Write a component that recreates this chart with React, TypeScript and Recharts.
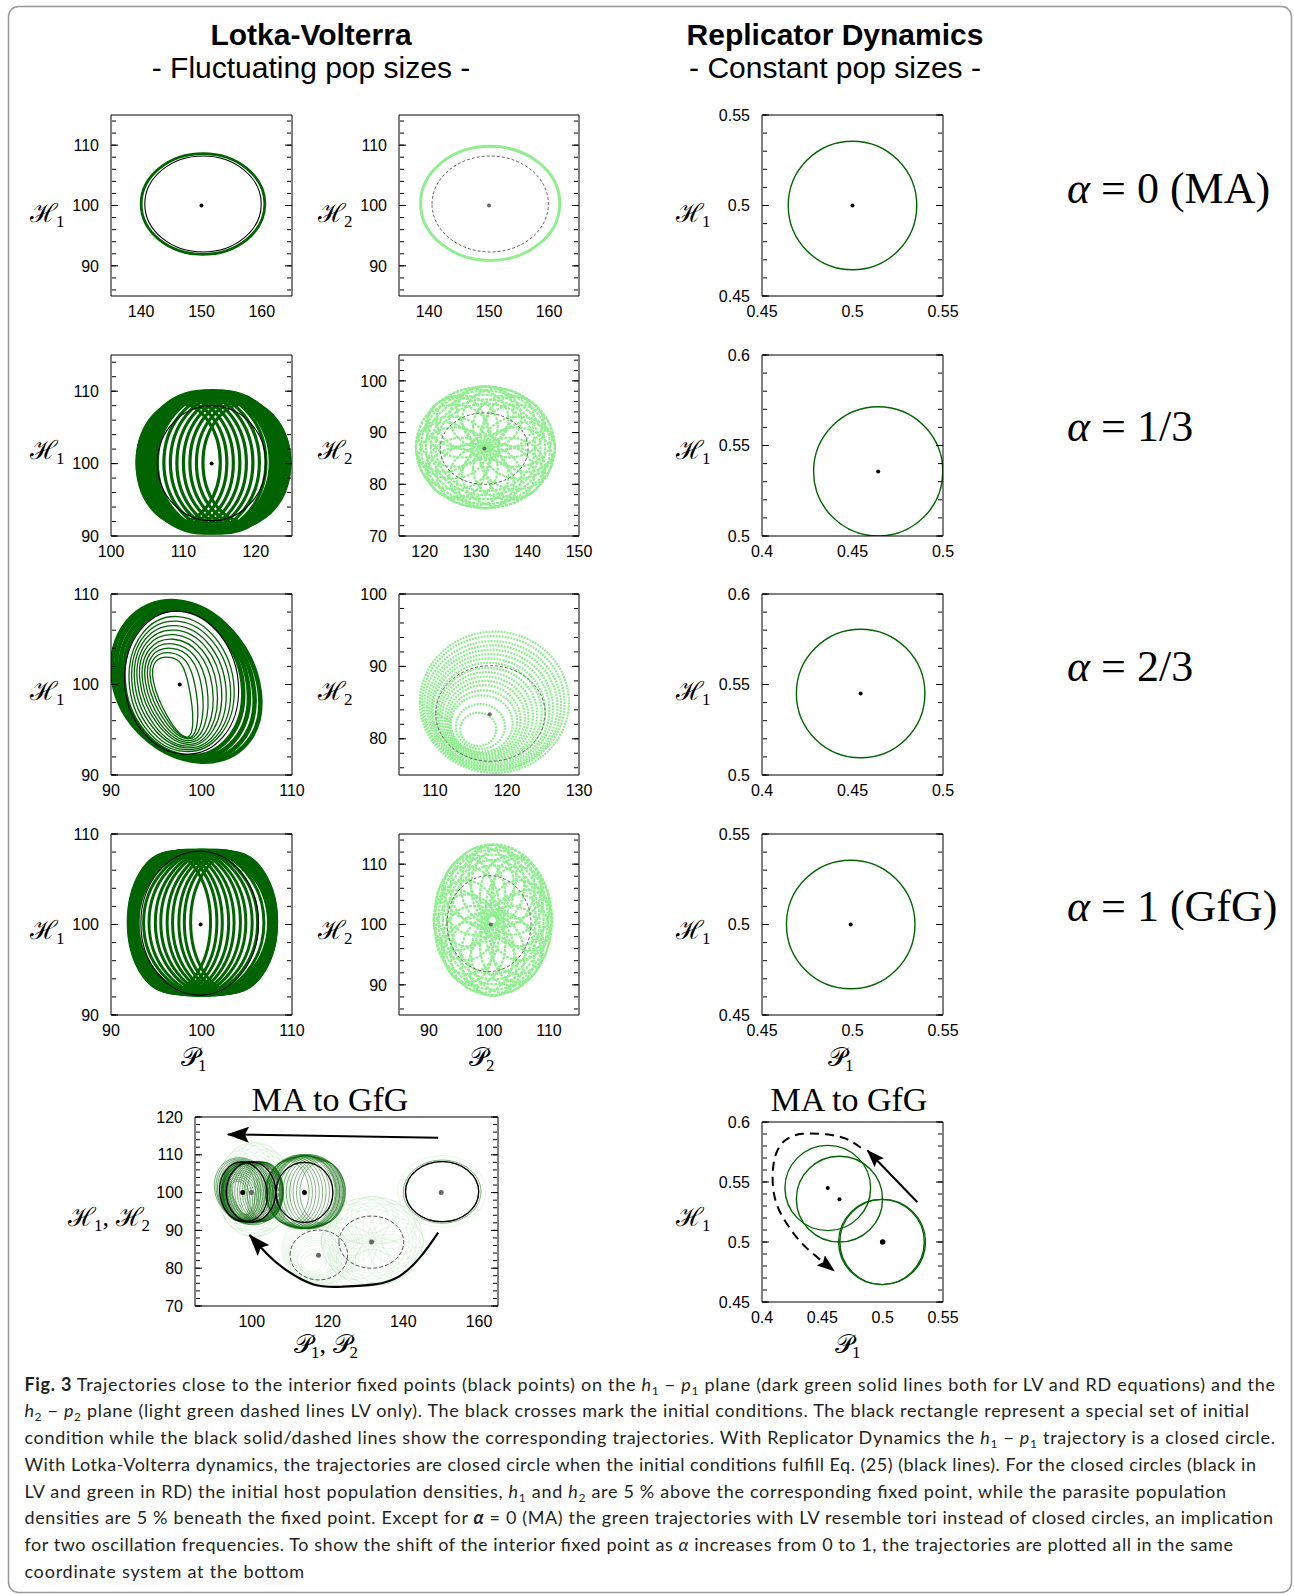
import { ComposedChart, Line, Scatter, XAxis, YAxis } from 'recharts';

const DARK_GREEN = '#006400';
const LIGHT_GREEN = '#90ee90';
const GREY = '#666666';
const SANS = '"Liberation Sans", Arial, Helvetica, sans-serif';
const SERIF = '"Liberation Serif", "DejaVu Serif", serif';
const CAPTION_FONT = 'Lato, "Open Sans", sans-serif';

// A loop is a box [xMin, xMax, yMin, yMax] (axis-aligned ellipse),
// or the four extreme points [xL, yL, xT, yT, xR, yR, xB, yB] of a tilted one.

// alpha = 0 (MA)
const maLv1Green = [[140.0, 160.5, 91.9, 108.6]];
const maLv1Black = [[140.6, 159.9, 92.3, 108.2]];
const maLv2Green = [[138.6, 161.8, 90.9, 109.8]];
const maLv2Dashed = [[140.5, 159.9, 92.3, 108.2]];
const maRd = [[0.4645, 0.5355, 0.4645, 0.5355]];

// alpha = 1/3
const a13Lv1Green = [
  [103.6, 124.7, 90.4, 110.1],
  [103.6, 115.1, 91.9, 108.3],
  [103.8, 116.0, 91.6, 108.6],
  [104.0, 116.9, 91.3, 108.9],
  [104.2, 117.8, 91.1, 109.1],
  [104.5, 118.7, 90.9, 109.3],
  [104.8, 119.6, 90.8, 109.5],
  [105.1, 120.5, 90.7, 109.6],
  [105.4, 121.4, 90.6, 109.7],
  [105.7, 122.3, 90.5, 109.8],
  [106.0, 123.2, 90.5, 109.9],
  [106.3, 124.1, 90.4, 110.0],
  [112.7, 124.7, 91.9, 108.3],
  [111.8, 124.5, 91.6, 108.6],
  [110.9, 124.3, 91.3, 108.9],
  [110.0, 124.1, 91.1, 109.1],
  [109.1, 123.8, 90.9, 109.3],
  [108.2, 123.5, 90.8, 109.5],
  [107.3, 123.2, 90.7, 109.6],
  [106.4, 122.9, 90.6, 109.7],
  [105.5, 122.6, 90.5, 109.8],
  [104.6, 122.3, 90.5, 109.9],
  [103.8, 122.0, 90.4, 110.0],
];
const a13Lv1Black = [[106.4, 121.4, 92.1, 108.0]];
const a13Lv2Green = [
  [118.3, 145.3, 75.4, 98.9],
  [119.3, 144.4, 76.2, 98.1],
  [120.2, 143.4, 77.1, 97.3],
  [121.2, 142.5, 77.9, 96.4],
  [122.1, 141.5, 78.7, 95.6],
  [131.3, 145.3, 81.1, 93.1],
  [130.8, 144.8, 83.4, 95.4],
  [129.4, 143.4, 85.2, 97.2],
  [127.3, 141.3, 86.5, 98.5],
  [124.8, 138.8, 86.9, 98.9],
  [122.3, 136.3, 86.5, 98.5],
  [120.2, 134.2, 85.2, 97.2],
  [118.8, 132.8, 83.4, 95.4],
  [118.3, 132.3, 81.1, 93.1],
  [118.8, 132.8, 79.0, 91.0],
  [120.2, 134.2, 77.0, 89.0],
  [122.3, 136.3, 75.8, 87.8],
  [124.8, 138.8, 75.4, 87.4],
  [127.3, 141.3, 75.8, 87.8],
  [129.4, 143.4, 77.0, 89.0],
  [130.8, 144.8, 79.0, 91.0],
  [134.3, 145.3, 82.4, 92.0],
  [132.0, 143.0, 87.3, 96.9],
  [126.3, 137.3, 89.4, 99.0],
  [120.6, 131.6, 87.3, 96.9],
  [118.3, 129.3, 82.4, 92.0],
  [120.6, 131.6, 77.4, 87.0],
  [126.3, 137.3, 75.4, 85.0],
  [132.0, 143.0, 77.4, 87.0],
];
const a13Lv2Dashed = [[123.0, 140.1, 80.0, 93.8]];
const a13Rd = [[0.4285, 0.4999, 0.5, 0.5714]];

// alpha = 2/3
const a23Lv1Band = [
  [90.2, 100.6, 97.2, 109.2, 106.4, 99.4, 99.7, 91.5],
  [90.6, 100.6, 97.3, 108.9, 105.8, 99.4, 99.3, 91.7],
  [91.0, 100.5, 97.4, 108.6, 105.2, 99.5, 98.9, 91.9],
  [91.4, 100.5, 97.5, 108.3, 104.6, 99.5, 98.4, 92.1],
];
const a23Lv1Green = [
  [92.0, 100.4, 97.4, 107.5, 103.6, 99.6, 98.1, 92.6],
  [92.3, 100.4, 97.3, 107.0, 103.2, 99.6, 98.2, 92.8],
  [92.6, 100.4, 97.2, 106.5, 102.7, 99.6, 98.3, 93.0],
  [92.9, 100.4, 97.1, 106.0, 102.2, 99.7, 98.3, 93.2],
  [93.2, 100.4, 97.0, 105.5, 101.7, 99.7, 98.4, 93.4],
  [93.5, 100.3, 96.9, 105.0, 101.2, 99.7, 98.4, 93.6],
  [93.8, 100.3, 96.8, 104.5, 100.6, 99.7, 98.4, 93.8],
  [94.1, 100.3, 96.7, 104.0, 100.0, 99.8, 98.4, 94.0],
  [94.4, 100.3, 96.6, 103.5, 99.3, 99.8, 98.4, 94.1],
  [94.7, 100.3, 96.5, 103.0, 98.6, 99.8, 98.3, 94.2],
];
const a23Lv1Black = [[91.5, 100.4, 97.6, 108.1, 104.1, 99.6, 98.0, 92.3]];
const a23Lv2Green = [
  [107.9, 128.6, 75.3, 94.8],
  [108.2, 128.0, 75.6, 94.2],
  [108.5, 127.5, 75.7, 93.5],
  [108.9, 127.0, 75.9, 92.9],
  [109.2, 126.4, 76.1, 92.3],
  [109.5, 125.9, 76.3, 91.7],
  [109.7, 125.3, 76.5, 91.1],
  [110.1, 124.8, 76.8, 90.5],
  [110.4, 124.2, 77.0, 89.8],
  [110.7, 123.6, 77.2, 89.2],
  [111.0, 123.0, 77.4, 88.6],
  [111.4, 122.5, 77.6, 88.0],
  [111.7, 121.9, 77.8, 87.4],
  [112.0, 121.4, 78.0, 86.7],
  [112.2, 120.8, 78.2, 86.0],
  [112.9, 119.7, 78.6, 84.8],
  [113.5, 118.5, 79.0, 83.6],
];
const a23Lv2Dashed = [[110.1, 125.3, 76.9, 90.1]];
const a23Rd = [[0.419, 0.49, 0.5095, 0.5805]];

// alpha = 1 (GfG)
const gfgLv1Green = [
  [92.0, 108.2, 92.2, 108.2],
  [91.9, 101.0, 92.6, 107.9],
  [91.95, 101.7, 92.5, 108.0],
  [92.0, 102.3, 92.4, 108.05],
  [92.1, 103.0, 92.35, 108.1],
  [92.2, 103.6, 92.3, 108.15],
  [92.3, 104.3, 92.3, 108.2],
  [92.4, 104.9, 92.25, 108.2],
  [92.5, 105.6, 92.2, 108.2],
  [92.6, 106.2, 92.2, 108.2],
  [92.8, 106.9, 92.2, 108.2],
  [93.0, 107.5, 92.2, 108.2],
  [98.8, 108.3, 92.6, 107.9],
  [98.1, 108.3, 92.5, 108.0],
  [97.5, 108.25, 92.4, 108.05],
  [96.8, 108.2, 92.35, 108.1],
  [96.2, 108.15, 92.3, 108.15],
  [95.5, 108.1, 92.3, 108.2],
  [94.9, 108.0, 92.25, 108.2],
  [94.2, 107.9, 92.2, 108.2],
  [93.6, 107.8, 92.2, 108.2],
  [92.9, 107.6, 92.2, 108.2],
  [92.3, 107.4, 92.2, 108.2],
];
const gfgLv1Black = [[93.3, 106.3, 92.2, 108.1]];
const gfgLv2Green = [
  [90.9, 110.5, 88.3, 113.3],
  [91.6, 109.8, 89.2, 112.4],
  [92.3, 109.1, 90.1, 111.6],
  [93.0, 108.4, 90.9, 110.7],
  [93.6, 107.8, 91.8, 109.8],
  [99.8, 110.4, 94.1, 107.3],
  [99.5, 110.1, 96.4, 109.6],
  [98.5, 109.1, 98.3, 111.5],
  [97.0, 107.6, 99.6, 112.8],
  [95.3, 105.9, 100.0, 113.2],
  [93.6, 104.2, 99.6, 112.8],
  [92.1, 102.7, 98.3, 111.5],
  [91.1, 101.7, 96.4, 109.6],
  [90.8, 101.4, 94.1, 107.3],
  [91.1, 101.7, 91.8, 105.0],
  [92.1, 102.7, 89.9, 103.1],
  [93.6, 104.2, 88.7, 101.9],
  [95.3, 105.9, 88.2, 101.4],
  [97.0, 107.6, 88.7, 101.9],
  [98.5, 109.1, 89.9, 103.1],
  [99.5, 110.1, 91.8, 105.0],
  [102.4, 110.4, 95.7, 105.7],
  [100.7, 108.7, 101.0, 111.0],
  [96.6, 104.6, 103.2, 113.2],
  [92.5, 100.5, 101.0, 111.0],
  [90.8, 98.8, 95.7, 105.7],
  [92.5, 100.5, 90.4, 100.4],
  [96.6, 104.6, 88.2, 98.2],
  [100.7, 108.7, 90.4, 100.4],
];
const gfgLv2Dashed = [[93.0, 107.0, 92.2, 108.1]];
const gfgRd = [[0.4635, 0.5345, 0.4645, 0.5355]];

// interior fixed points, rows alpha = 0, 1/3, 2/3, 1
const lv1Fixed = [[150, 100], [113.9, 100], [97.6, 100], [99.9, 100]];
const lv2Fixed = [[150, 100], [131.6, 86.9], [117.6, 83.4], [100.3, 100]];
const rdFixed = [[0.5, 0.5], [0.4642, 0.5357], [0.4545, 0.545], [0.499, 0.5]];

// arrows of the two "MA to GfG" panels
const mixTopArrow = [[149.2, 114.5], [93.7, 115.4]];
const mixBottomArrow = [
  [149.2, 89.4], [144.7, 83.2], [139.0, 77.9], [132.4, 75.7], [123.9, 75.1],
  [116.3, 75.7], [108.8, 79.7], [104.1, 83.7], [99.4, 88.8],
];
const rdSolidArrow = [[0.5288, 0.5331], [0.4874, 0.5763]];
const rdDashedArrow = [
  [0.4819, 0.5785], [0.4695, 0.5861], [0.4529, 0.5897], [0.4336, 0.5902],
  [0.4199, 0.5852], [0.4116, 0.5735], [0.4088, 0.554], [0.4121, 0.5317],
  [0.4226, 0.5122], [0.4364, 0.4955], [0.4598, 0.476],
];

// axes
const lv1XDomains = [[135, 165], [100, 125], [90, 110], [90, 110]];
const lv1YDomains = [[85, 115], [90, 115], [90, 110], [90, 110]];
const lv1XTicks = [[140, 150, 160], [100, 110, 120], [90, 100, 110], [90, 100, 110]];
const lv1YTicks = [[90, 100, 110], [90, 100, 110], [90, 100, 110], [90, 100, 110]];
const lv2XDomains = [[135, 165], [115, 150], [105, 130], [85, 115]];
const lv2YDomains = [[85, 115], [70, 105], [75, 100], [85, 115]];
const lv2XTicks = [[140, 150, 160], [120, 130, 140, 150], [110, 120, 130], [90, 100, 110]];
const lv2YTicks = [[90, 100, 110], [70, 80, 90, 100], [80, 90, 100], [90, 100, 110]];
const rdXDomains = [[0.45, 0.55], [0.4, 0.5], [0.4, 0.5], [0.45, 0.55]];
const rdYDomains = [[0.45, 0.55], [0.5, 0.6], [0.5, 0.6], [0.45, 0.55]];
const rdXTicks = [[0.45, 0.5, 0.55], [0.4, 0.45, 0.5], [0.4, 0.45, 0.5], [0.45, 0.5, 0.55]];
const rdYTicks = [[0.45, 0.5, 0.55], [0.5, 0.55, 0.6], [0.5, 0.55, 0.6], [0.45, 0.5, 0.55]];
const mixXTicks = [100, 120, 140, 160];
const mixYTicks = [70, 80, 90, 100, 110, 120];
const mixRdXTicks = [0.4, 0.45, 0.5, 0.55];
const mixRdYTicks = [0.45, 0.5, 0.55, 0.6];

const alphaLabels = ['0 (MA)', '1/3', '2/3', '1 (GfG)'];

const ROW_TOPS = [115, 355, 594, 834];
const COL_LEFTS = [111, 399, 762];
const PAD = { l: 70, r: 28, t: 14, b: 36 };

type Loop = number[];
type Layer = { loops: Loop[]; stroke: string; width: number; dash?: string; opacity?: number };
type Dots = { points: number[][]; fill: string; r: number };
type Arrow = { points: number[][]; width: number; dash?: string; marker: string };
type PanelProps = {
  box: number[];
  xDomain: number[];
  yDomain: number[];
  xTicks: number[];
  yTicks: number[];
  xMinor: number;
  yMinor: number;
  layers: Layer[];
  dots: Dots[];
  arrows?: Arrow[];
};

// closed smooth curve through the points (cubic pieces, circle-like for evenly spaced points)
function closedLoop(context: any) {
  let pts: number[][] = [];
  return {
    areaStart() {},
    areaEnd() {},
    lineStart() {
      pts = [];
    },
    point(x: number, y: number) {
      pts.push([+x, +y]);
    },
    lineEnd() {
      const n = pts.length;
      if (!n) return;
      const k = ((4 / 3) * Math.tan(Math.PI / (2 * n))) / (2 * Math.sin((2 * Math.PI) / n));
      context.moveTo(pts[0][0], pts[0][1]);
      for (let i = 0; i < n; i += 1) {
        const p0 = pts[(i + n - 1) % n];
        const p1 = pts[i];
        const p2 = pts[(i + 1) % n];
        const p3 = pts[(i + 2) % n];
        context.bezierCurveTo(
          p1[0] + (p2[0] - p0[0]) * k,
          p1[1] + (p2[1] - p0[1]) * k,
          p2[0] - (p3[0] - p1[0]) * k,
          p2[1] - (p3[1] - p1[1]) * k,
          p2[0],
          p2[1],
        );
      }
      context.closePath();
    },
  };
}

function loopPoints(l: Loop) {
  if (l.length === 4) {
    const [x0, x1, y0, y1] = l;
    const xm = (x0 + x1) / 2;
    const ym = (y0 + y1) / 2;
    return [{ x: x0, y: ym }, { x: xm, y: y1 }, { x: x1, y: ym }, { x: xm, y: y0 }];
  }
  return [0, 2, 4, 6].map((i) => ({ x: l[i], y: l[i + 1] }));
}

function minorTicks(dom: number[], step: number) {
  const out: number[] = [];
  const start = Math.ceil(dom[0] / step - 1e-6) * step;
  for (let v = start; v <= dom[1] + 1e-9; v += step) out.push(Math.round(v * 10000) / 10000);
  return out;
}

// inner tick marks only, no label
const noLabel = () => <g />;

function Panel({ box, xDomain, yDomain, xTicks, yTicks, xMinor, yMinor, layers, dots, arrows = [] }: PanelProps) {
  const [left, top, w, h] = box;
  const xm = minorTicks(xDomain, xMinor);
  const ym = minorTicks(yDomain, yMinor);
  const tickStyle = { fill: '#000', fontSize: 16, fontFamily: SANS };
  const edge = { stroke: '#000', strokeWidth: 1 };

  const lines: any[] = [];
  layers.forEach((layer, li) =>
    layer.loops.forEach((loop, k) =>
      lines.push(
        <Line
          key={`loop-${li}-${k}`}
          xAxisId="x"
          yAxisId="y"
          data={loopPoints(loop)}
          dataKey="y"
          type={closedLoop as any}
          stroke={layer.stroke}
          strokeWidth={layer.width}
          strokeDasharray={layer.dash}
          strokeOpacity={layer.opacity ?? 1}
          dot={false}
          activeDot={false}
          legendType="none"
          isAnimationActive={false}
        />,
      ),
    ),
  );
  arrows.forEach((a, i) =>
    lines.push(
      <Line
        key={`arrow-${i}`}
        xAxisId="x"
        yAxisId="y"
        data={a.points.map(([x, y]) => ({ x, y }))}
        dataKey="y"
        type="natural"
        stroke="#000"
        strokeWidth={a.width}
        strokeDasharray={a.dash}
        markerEnd={`url(#${a.marker})`}
        dot={false}
        activeDot={false}
        legendType="none"
        isAnimationActive={false}
      />,
    ),
  );
  const scatters = dots.map((d, i) => (
    <Scatter
      key={`dots-${i}`}
      xAxisId="x"
      yAxisId="y"
      data={d.points.map(([x, y]) => ({ x, y }))}
      dataKey="y"
      shape={(p: any) => <circle cx={p.cx} cy={p.cy} r={d.r} fill={d.fill} />}
      legendType="none"
      isAnimationActive={false}
    />
  ));

  return (
    <div style={{ position: 'absolute', left: left - PAD.l, top: top - PAD.t }}>
      <ComposedChart
        width={w + PAD.l + PAD.r}
        height={h + PAD.t + PAD.b}
        margin={{ top: PAD.t, right: PAD.r, bottom: 0, left: 0 }}
      >
        <XAxis xAxisId="x" type="number" dataKey="x" domain={xDomain} allowDataOverflow ticks={xTicks} interval={0}
          height={PAD.b} tickSize={0} tickMargin={10} tickLine={false} axisLine={edge} tick={tickStyle} />
        <XAxis xAxisId="xb" type="number" domain={xDomain} allowDataOverflow ticks={xTicks} interval={0}
          orientation="bottom" mirror height={1} tickSize={7} tick={noLabel} axisLine={false} tickLine={edge} />
        <XAxis xAxisId="xbm" type="number" domain={xDomain} allowDataOverflow ticks={xm} interval={0}
          orientation="bottom" mirror height={1} tickSize={4} tick={noLabel} axisLine={false} tickLine={edge} />
        <XAxis xAxisId="xt" type="number" domain={xDomain} allowDataOverflow ticks={xTicks} interval={0}
          orientation="top" mirror height={1} tickSize={7} tick={noLabel} axisLine={edge} tickLine={edge} />
        <XAxis xAxisId="xtm" type="number" domain={xDomain} allowDataOverflow ticks={xm} interval={0}
          orientation="top" mirror height={1} tickSize={4} tick={noLabel} axisLine={false} tickLine={edge} />
        <YAxis yAxisId="y" type="number" dataKey="y" domain={yDomain} allowDataOverflow ticks={yTicks} interval={0}
          width={PAD.l} tickSize={0} tickMargin={12} tickLine={false} axisLine={edge} tick={tickStyle} />
        <YAxis yAxisId="yl" type="number" domain={yDomain} allowDataOverflow ticks={yTicks} interval={0}
          orientation="left" mirror width={1} tickSize={7} tick={noLabel} axisLine={false} tickLine={edge} />
        <YAxis yAxisId="ylm" type="number" domain={yDomain} allowDataOverflow ticks={ym} interval={0}
          orientation="left" mirror width={1} tickSize={4} tick={noLabel} axisLine={false} tickLine={edge} />
        <YAxis yAxisId="yr" type="number" domain={yDomain} allowDataOverflow ticks={yTicks} interval={0}
          orientation="right" mirror width={1} tickSize={7} tick={noLabel} axisLine={edge} tickLine={edge} />
        <YAxis yAxisId="yrm" type="number" domain={yDomain} allowDataOverflow ticks={ym} interval={0}
          orientation="right" mirror width={1} tickSize={4} tick={noLabel} axisLine={false} tickLine={edge} />
        {lines}
        {scatters}
      </ComposedChart>
    </div>
  );
}

const lv1GreenRows = [maLv1Green, a13Lv1Green, a23Lv1Green, gfgLv1Green];
const lv1BlackRows = [maLv1Black, a13Lv1Black, a23Lv1Black, gfgLv1Black];
const lv2GreenRows = [maLv2Green, a13Lv2Green, a23Lv2Green, gfgLv2Green];
const lv2DashedRows = [maLv2Dashed, a13Lv2Dashed, a23Lv2Dashed, gfgLv2Dashed];
const rdRows = [maRd, a13Rd, a23Rd, gfgRd];

const lv1Width = [2.8, 3.2, 1.3, 3.0];
const lv2Style = [
  { width: 3, dash: undefined },
  { width: 2.2, dash: '3 1' },
  { width: 2.2, dash: '2 1' },
  { width: 2.2, dash: '3 1' },
];

const panels: PanelProps[] = [];
ROW_TOPS.forEach((top, r) => {
  const lv1Layers: Layer[] = [];
  if (r === 2) lv1Layers.push({ loops: a23Lv1Band, stroke: DARK_GREEN, width: 4.5 });
  lv1Layers.push({ loops: lv1GreenRows[r], stroke: DARK_GREEN, width: lv1Width[r] });
  lv1Layers.push({ loops: lv1BlackRows[r], stroke: '#000', width: 1.1 });
  panels.push({
    box: [COL_LEFTS[0], top, 181, 181],
    xDomain: lv1XDomains[r],
    yDomain: lv1YDomains[r],
    xTicks: lv1XTicks[r],
    yTicks: lv1YTicks[r],
    xMinor: 2,
    yMinor: 2,
    layers: lv1Layers,
    dots: [{ points: [lv1Fixed[r]], fill: '#000', r: 2 }],
  });
  panels.push({
    box: [COL_LEFTS[1], top, 180, 181],
    xDomain: lv2XDomains[r],
    yDomain: lv2YDomains[r],
    xTicks: lv2XTicks[r],
    yTicks: lv2YTicks[r],
    xMinor: 2,
    yMinor: 2,
    layers: [
      { loops: lv2GreenRows[r], stroke: LIGHT_GREEN, width: lv2Style[r].width, dash: lv2Style[r].dash },
      { loops: lv2DashedRows[r], stroke: GREY, width: 1, dash: '3 2' },
    ],
    dots: [{ points: [lv2Fixed[r]], fill: GREY, r: 2 }],
  });
  panels.push({
    box: [COL_LEFTS[2], top, 181, 181],
    xDomain: rdXDomains[r],
    yDomain: rdYDomains[r],
    xTicks: rdXTicks[r],
    yTicks: rdYTicks[r],
    xMinor: 0.01,
    yMinor: 0.01,
    layers: [{ loops: rdRows[r], stroke: DARK_GREEN, width: 1.4 }],
    dots: [{ points: [rdFixed[r]], fill: '#000', r: 2 }],
  });
});

panels.push({
  box: [195, 1117, 303, 189],
  xDomain: [85, 165],
  yDomain: [70, 120],
  xTicks: mixXTicks,
  yTicks: mixYTicks,
  xMinor: 5,
  yMinor: 2,
  layers: [
    ...lv2GreenRows.map((loops) => ({ loops, stroke: '#5fbf5f', width: 0.8, opacity: 0.16 })),
    ...lv1GreenRows.map((loops) => ({ loops, stroke: DARK_GREEN, width: 0.7, opacity: 0.7 })),
    { loops: a23Lv1Band, stroke: DARK_GREEN, width: 0.8, opacity: 0.7 },
    ...lv2DashedRows.map((loops) => ({ loops, stroke: '#555', width: 1, dash: '4 2' })),
    ...lv1BlackRows.map((loops) => ({ loops, stroke: '#000', width: 1.3 })),
  ],
  dots: [
    { points: lv1Fixed.slice(1, 3), fill: '#000', r: 2.5 },
    { points: [lv2Fixed[0], lv2Fixed[1], lv2Fixed[2], lv1Fixed[3]], fill: '#666', r: 2.5 },
  ],
  arrows: [
    { points: mixTopArrow, width: 2, marker: 'headBig' },
    { points: mixBottomArrow, width: 2.2, marker: 'headBig' },
  ],
});

panels.push({
  box: [762, 1122, 181, 180],
  xDomain: [0.4, 0.55],
  yDomain: [0.45, 0.6],
  xTicks: mixRdXTicks,
  yTicks: mixRdYTicks,
  xMinor: 0.01,
  yMinor: 0.01,
  layers: rdRows.map((loops) => ({ loops, stroke: DARK_GREEN, width: 1.4 })),
  dots: [
    { points: rdFixed.slice(1, 3), fill: '#000', r: 2 },
    { points: [rdFixed[0]], fill: '#000', r: 2.8 },
  ],
  arrows: [
    { points: rdSolidArrow, width: 2, marker: 'headSmall' },
    { points: rdDashedArrow, width: 2, dash: '9 6', marker: 'headSmall' },
  ],
});

type Seg = [string, string];
const captionLines: Seg[][] = [
  [['Fig. 3', 'b'], [' Trajectories close to the interior fixed points (black points) on the ', ''], ['h', 'i'], ['1', 's'], [' − ', ''], ['p', 'i'], ['1', 's'], [' plane (dark green solid lines both for LV and RD equations) and the', '']],
  [['h', 'i'], ['2', 's'], [' − ', ''], ['p', 'i'], ['2', 's'], [' plane (light green dashed lines LV only). The black crosses mark the initial conditions. The black rectangle represent a special set of initial', '']],
  [['condition while the black solid/dashed lines show the corresponding trajectories. With Replicator Dynamics the ', ''], ['h', 'i'], ['1', 's'], [' − ', ''], ['p', 'i'], ['1', 's'], [' trajectory is a closed circle.', '']],
  [['With Lotka-Volterra dynamics, the trajectories are closed circle when the initial conditions fulfill Eq. (25) (black lines). For the closed circles (black in', '']],
  [['LV and green in RD) the initial host population densities, ', ''], ['h', 'i'], ['1', 's'], [' and ', ''], ['h', 'i'], ['2', 's'], [' are 5 % above the corresponding fixed point, while the parasite population', '']],
  [['densities are 5 % beneath the fixed point. Except for ', ''], ['α', 'bi'], [' = 0 (MA) the green trajectories with LV resemble tori instead of closed circles, an implication', '']],
  [['for two oscillation frequencies. To show the shift of the interior fixed point as ', ''], ['α', 'i'], [' increases from 0 to 1, the trajectories are plotted all in the same', '']],
  [['coordinate system at the bottom', '']],
];
const captionEnds = [1275, 1249, 1275, 1256, 1226, 1273, 1233, 304];

function CaptionLine({ segs, y, end }: { segs: Seg[]; y: number; end: number }) {
  let shifted = false;
  const spans = segs.map(([t, s], i) => {
    let dy = 0;
    if (s === 's' && !shifted) { dy = 4; shifted = true; }
    else if (s !== 's' && shifted) { dy = -4; shifted = false; }
    return (
      <tspan
        key={i}
        dy={dy || undefined}
        fontWeight={s.includes('b') ? 'bold' : undefined}
        fontStyle={s.includes('i') ? 'italic' : undefined}
        fontSize={s === 's' ? 12 : undefined}
      >
        {t}
      </tspan>
    );
  });
  return (
    <text x={24.4} y={y} fontFamily={CAPTION_FONT} fontSize={18} fill="#231f20"
      textLength={end - 24.4} lengthAdjust="spacing" style={{ whiteSpace: 'pre' }}>
      {spans}
    </text>
  );
}

function Sym({ x, y, parts }: { x: number; y: number; parts: string[][] }) {
  // parts: [letter, subscript] pairs separated by commas
  return (
    <text x={x} y={y} fontFamily={SERIF} fontSize={26} fill="#000" style={{ whiteSpace: 'pre' }}>
      {parts.map(([letter, sub], i) => [
        <tspan key={`l${i}`} dy={i ? -5 : undefined}>{(i ? ', ' : '') + letter}</tspan>,
        <tspan key={`s${i}`} fontSize={17} dy={5} dx={-2}>{sub}</tspan>,
      ])}
    </text>
  );
}

function Overlay() {
  return (
    <svg width={1294} height={1595} style={{ position: 'absolute', left: 0, top: 0 }}>
      <defs>
        <marker id="headBig" viewBox="0 0 22 16" refX="21" refY="8" markerWidth="22" markerHeight="16"
          markerUnits="userSpaceOnUse" orient="auto">
          <path d="M0,0 L22,8 L0,16 L4,8 z" fill="#000" />
        </marker>
        <marker id="headSmall" viewBox="0 0 18 13" refX="17" refY="6.5" markerWidth="18" markerHeight="13"
          markerUnits="userSpaceOnUse" orient="auto">
          <path d="M0,0 L18,6.5 L0,13 L3,6.5 z" fill="#000" />
        </marker>
      </defs>
      <rect x={8.5} y={6.5} width={1283} height={1586} rx={10} fill="none" stroke="#999" strokeWidth={1.5} />

      <text x={311} y={45} textAnchor="middle" fontFamily={SANS} fontWeight="bold" fontSize={30}>Lotka-Volterra</text>
      <text x={311} y={78} textAnchor="middle" fontFamily={SANS} fontSize={30}>- Fluctuating pop sizes -</text>
      <text x={835} y={45} textAnchor="middle" fontFamily={SANS} fontWeight="bold" fontSize={30}>Replicator Dynamics</text>
      <text x={835} y={78} textAnchor="middle" fontFamily={SANS} fontSize={30}>- Constant pop sizes -</text>

      {alphaLabels.map((label, i) => (
        <text key={label} x={1067} y={[203, 441, 681, 921][i]} fontFamily={SERIF} fontSize={44} style={{ whiteSpace: 'pre' }}>
          <tspan fontStyle="italic">α</tspan>
          {` = ${label}`}
        </text>
      ))}

      {[222, 459, 700, 939].map((y) => [
        <Sym key={`a${y}`} x={30} y={y} parts={[['ℋ', '1']]} />,
        <Sym key={`b${y}`} x={318} y={y} parts={[['ℋ', '2']]} />,
        <Sym key={`c${y}`} x={676} y={y} parts={[['ℋ', '1']]} />,
      ])}
      <Sym x={181} y={1066} parts={[['𝒫', '1']]} />
      <Sym x={469} y={1066} parts={[['𝒫', '2']]} />
      <Sym x={828} y={1066} parts={[['𝒫', '1']]} />
      <Sym x={68} y={1226} parts={[['ℋ', '1'], ['ℋ', '2']]} />
      <Sym x={676} y={1226} parts={[['ℋ', '1']]} />
      <Sym x={294} y={1353} parts={[['𝒫', '1'], ['𝒫', '2']]} />
      <Sym x={835} y={1353} parts={[['𝒫', '1']]} />

      <text x={330} y={1111} textAnchor="middle" fontFamily={SERIF} fontSize={34}>MA to GfG</text>
      <text x={849} y={1111} textAnchor="middle" fontFamily={SERIF} fontSize={34}>MA to GfG</text>

      {captionLines.map((segs, i) => (
        <CaptionLine key={i} segs={segs} y={1390.5 + 26.75 * i} end={captionEnds[i]} />
      ))}
    </svg>
  );
}

export default function App() {
  return (
    <div style={{ position: 'relative', width: 1294, height: 1595, background: '#fff', overflow: 'hidden' }}>
      <style>{'body { margin: 0; }'}</style>
      <Overlay />
      {panels.map((p, i) => (
        <Panel key={i} {...p} />
      ))}
    </div>
  );
}
